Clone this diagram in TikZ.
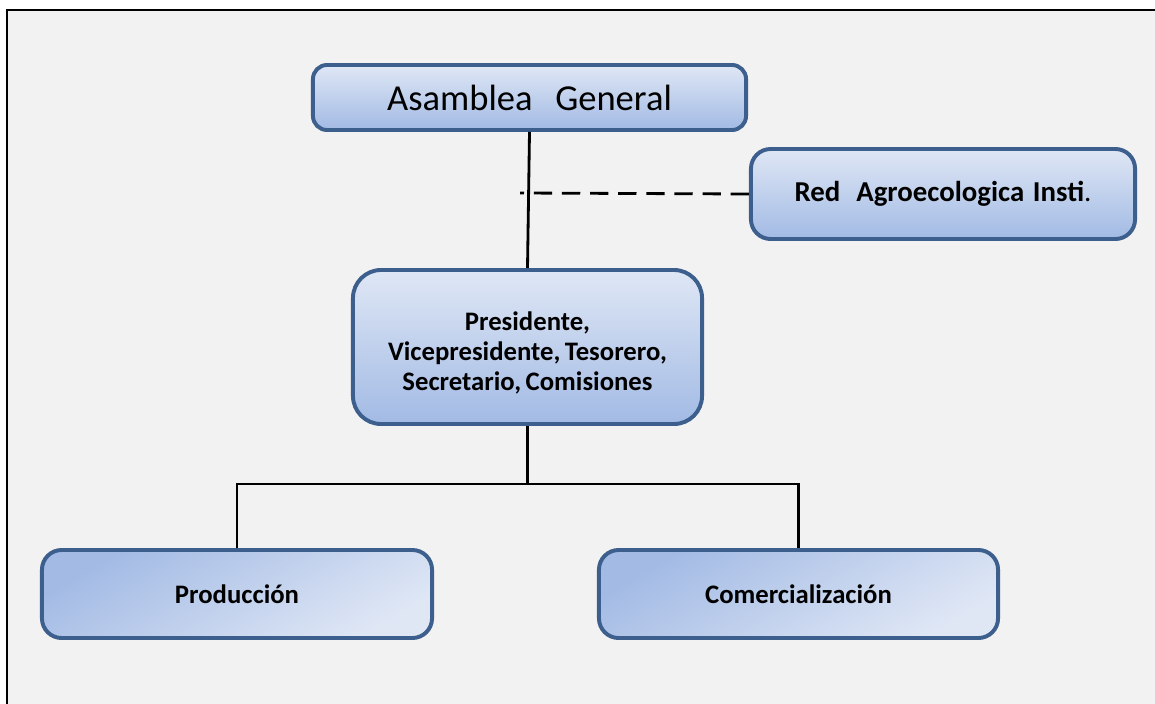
\documentclass[tikz,border=0pt]{standalone}
\usepackage{fontspec}
\setmainfont{Carlito}
\usetikzlibrary{positioning}
\definecolor{boxedge}{HTML}{3D5F8E}
\definecolor{boxtop}{HTML}{DFE7F5}
\definecolor{boxbot}{HTML}{A2BAE4}
\definecolor{paper}{HTML}{F2F2F2}

\begin{document}
\begin{tikzpicture}
                [
                x=0.025cm, y=-0.025cm,
                orgbox/.style={draw=boxedge, line width=2.8pt, top color=boxtop, bottom color=boxbot, align=center, inner sep=0pt},
                leafbox/.style={orgbox, top color=boxbot, bottom color=boxtop, shading angle=30, rounded corners=14pt},
                boldtext/.style={font=\bfseries\fontsize{19}{21.3}\selectfont},
                link/.style={line width=2pt, draw=black}
                ]
                % Page and frame
                \useasboundingbox (0,0) rectangle (1155,703);
                \fill[white] (0,0) rectangle (1155,703);
                \fill[paper] (7,10) rectangle (1170,720);
                \draw[line width=1.5pt] (7,720) -- (7,10) -- (1170,10);
                % Top level
                \node[orgbox, rounded corners=10pt, minimum width=10.825cm, minimum height=1.625cm,
                      font=\fontsize{26}{30}\selectfont] (asamblea) at (529.5,97.5)
                    {Asamblea\hspace{0.62em}General};
                \node[orgbox, boldtext, font=\bfseries\fontsize{20.5}{23}\selectfont, rounded corners=14pt,
                      minimum width=9.6cm, minimum height=2.25cm] (red) at (943,194)
                    {Red\hspace{0.55em}Agroecologica\hspace{0.3em}Insti\textmd{.}};
                % Board
                \node[orgbox, boldtext, rounded corners=20pt, minimum width=8.725cm, minimum height=3.85cm] (junta) at (527.5,347)
                    {\rule{0pt}{22pt}Presidente,\\ Vicepresidente,\,Tesorero,\\ Secretario,\,Comisiones};
                % Level 2: areas
                \node[leafbox, boldtext, minimum width=9.75cm, minimum height=2.2cm] (prod) at (237,594)
                    {Producción};
                \node[leafbox, boldtext, minimum width=9.975cm, minimum height=2.2cm] (comer) at (798.5,594)
                    {Comercialización};
                % Connectors
                \coordinate (tap) at (520,193);
                \coordinate (fork) at (527.5,484);
                \draw[link] (asamblea.south) -- (junta.north);
                \draw[link, dash pattern=on 13pt off 7pt] (red.west) -- (tap);
                \draw[link] (junta.south) -- (fork);
                \draw[link] (prod.north) |- (fork) -| (comer.north);
            \end{tikzpicture}
\end{document}
